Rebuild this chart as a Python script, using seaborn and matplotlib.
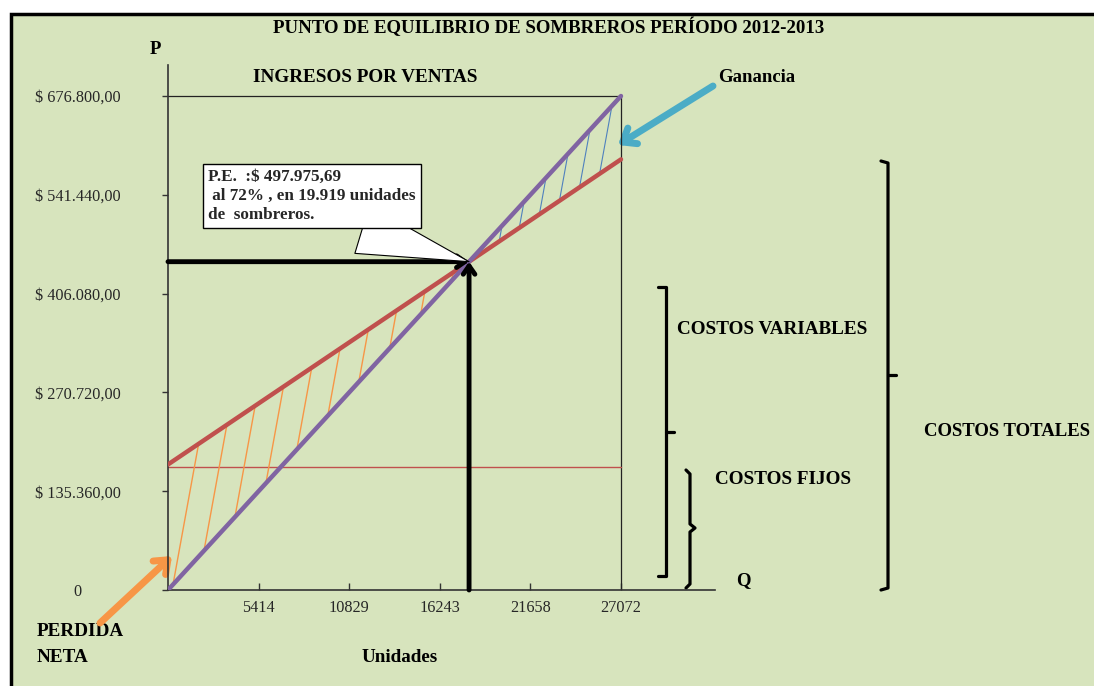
import numpy as np
import matplotlib.pyplot as plt
import seaborn as sns
from matplotlib.patches import Rectangle

# -----------------------------
# Datos
# -----------------------------
unidades = [0, 27072]
ingresos = [0, 676800]
costos_totales = [172000, 590000]
costos_fijos = [168000, 168000]

y_ticks = [0, 135360, 270720, 406080, 541440, 676800]
y_labels = ['0', '$ 135.360,00', '$ 270.720,00', '$ 406.080,00',
            '$ 541.440,00', '$ 676.800,00']
x_ticks = [5414, 10829, 16243, 21658, 27072]
x_labels = ['5414', '10829', '16243', '21658', '27072']

pe_texto = 'P.E.  :$ 497.975,69\n al 72% , en 19.919 unidades\nde  sombreros.'

VERDE = '#D7E4BD'
MORADO = '#8064A2'
ROJO = '#C0504D'
NARANJA = '#F79646'
AZUL = '#4F81BD'
CELESTE = '#4BACC6'

sns.set_theme(style='white')
plt.rcParams['font.family'] = ['Liberation Serif', 'DejaVu Serif']

W, H = 1094, 686
fig = plt.figure(figsize=(W / 100, H / 100), dpi=100, facecolor='white')

# fondo y decoracion en coordenadas de pixel
bg = fig.add_axes([0, 0, 1, 1], zorder=0)
bg.set_xlim(0, W)
bg.set_ylim(H, 0)
bg.axis('off')
bg.add_patch(Rectangle((11, 14), 1100, 700, fc=VERDE, ec='black', lw=2.5))

# ejes principales
x0_px, x1_px, y0_px, y1_px = 168, 715, 590, 65
ax = fig.add_axes([x0_px / W, (H - y0_px) / H, (x1_px - x0_px) / W, (y0_px - y1_px) / H], zorder=1)
ax.set_facecolor('none')
ax.set_xlim(0, unidades[1] * (x1_px - x0_px) / 453)
ax.set_ylim(0, ingresos[1] * (y0_px - y1_px) / 494)

sns.lineplot(x=unidades, y=costos_fijos, color=ROJO, lw=1, ax=ax, zorder=2)
sns.lineplot(x=unidades, y=costos_totales, color=ROJO, lw=3.2, ax=ax, zorder=3)
sns.lineplot(x=unidades, y=ingresos, color=MORADO, lw=3.2, ax=ax, zorder=3)
# recuadro de ingresos por ventas
ax.plot([0, unidades[1], unidades[1]], [ingresos[1], ingresos[1], 0], color='#222222', lw=0.9, zorder=1)

# punto de equilibrio (cruce de las rectas)
p_ing = (ingresos[1] - ingresos[0]) / (unidades[1] - unidades[0])
p_cos = (costos_totales[1] - costos_totales[0]) / (unidades[1] - unidades[0])
xb = (costos_totales[0] - ingresos[0]) / (p_ing - p_cos)
yb = ingresos[0] + p_ing * xb


def ing(x):
    return np.interp(x, unidades, ingresos)


def cos(x):
    return np.interp(x, unidades, costos_totales)


# rayado de perdida y ganancia
s = 126.0
for xs in np.arange(300, xb, 1850):
    y_ini = ing(xs)
    t = (cos(xs) - y_ini) / (s - p_cos)
    ax.plot([xs, xs + t], [y_ini, y_ini + s * t], color=NARANJA, lw=1, zorder=2)
for xs in np.arange(xb + 600, unidades[1], 1200):
    y_ini = cos(xs)
    t = (ing(xs) - y_ini) / (s - p_ing)
    if xs + t <= unidades[1]:
        ax.plot([xs, xs + t], [y_ini, y_ini + s * t], color=AZUL, lw=0.8, zorder=2)

flecha = dict(arrowstyle='->,head_length=0.5,head_width=0.35', color='black', lw=3.5,
              shrinkA=0, shrinkB=0)
ax.annotate('', xy=(xb, yb), xytext=(0, yb), arrowprops=flecha, zorder=4)
ax.annotate('', xy=(xb, yb), xytext=(xb, 0), arrowprops=flecha, zorder=4)

ax.annotate(pe_texto, xy=(xb, yb), xytext=(208, 169), textcoords=bg.transData,
            ha='left', va='top', fontsize=12.3, fontweight='bold', linespacing=1.25,
            bbox=dict(boxstyle='square,pad=0.3', fc='white', ec='black', lw=1),
            arrowprops=dict(arrowstyle='wedge,tail_width=1.2', fc='white', ec='black',
                            lw=0.8, relpos=(0.64, 0), mutation_scale=30, shrinkB=0),
            zorder=5)

sns.despine(ax=ax)
for sp in ['left', 'bottom']:
    ax.spines[sp].set_color('#333333')
    ax.spines[sp].set_linewidth(1.2)
ax.set_yticks(y_ticks, y_labels)
ax.set_xticks(x_ticks, x_labels)
ax.tick_params(axis='y', direction='out', length=4, width=1, color='#333333',
               pad=61, labelsize=11.7, left=True)
ax.tick_params(axis='x', direction='in', length=5, width=1, color='#333333',
               pad=7, labelsize=11.7, bottom=True)
for lab in ax.get_yticklabels():
    lab.set_horizontalalignment('center')
ax.grid(False)

# textos
negrita = dict(fontweight='bold', color='black')
bg.text(549, 27, 'PUNTO DE EQUILIBRIO DE SOMBREROS PERÍODO 2012-2013', ha='center', va='center', fontsize=13.6, **negrita)
bg.text(155, 50, 'P', ha='center', va='center', fontsize=13.5, **negrita)
bg.text(365, 77, 'INGRESOS POR VENTAS', ha='center', va='center', fontsize=13.8, **negrita)
bg.text(718, 78, 'Ganancia', ha='left', va='center', fontsize=13.5, **negrita)
bg.text(677, 330, 'COSTOS VARIABLES', ha='left', va='center', fontsize=13.8, **negrita)
bg.text(715, 480, 'COSTOS FIJOS', ha='left', va='center', fontsize=13.8, **negrita)
bg.text(1090, 431, 'COSTOS TOTALES', ha='right', va='center', fontsize=13.5, **negrita)
bg.text(743, 581, 'Q', ha='center', va='center', fontsize=13.5, **negrita)
bg.text(400, 658, 'Unidades', ha='center', va='center', fontsize=13.8, **negrita)
bg.text(37, 632, 'PERDIDA', ha='left', va='center', fontsize=13.8, **negrita)
bg.text(37, 658, 'NETA', ha='left', va='center', fontsize=13.8, **negrita)

# flechas de ganancia y perdida
bg.annotate('', xy=(618, 145), xytext=(713, 86),
            arrowprops=dict(arrowstyle='->,head_length=0.7,head_width=0.55', color=CELESTE, lw=5, shrinkA=0, shrinkB=0))
bg.annotate('', xy=(172, 556), xytext=(100, 623),
            arrowprops=dict(arrowstyle='->,head_length=0.7,head_width=0.55', color=NARANJA, lw=5, shrinkA=0, shrinkB=0))

# llaves de costos
llave = dict(color='black', lw=2.3, solid_capstyle='round')
bg.plot([658, 666, 666, 658], [287, 287, 576, 576], **llave)
bg.plot([666, 674], [432, 432], **llave)
bg.plot([686, 690, 690, 695, 690, 690, 686], [470, 474, 524, 528, 532, 584, 588], **llave)
bg.plot([881, 888, 888, 881], [161, 163, 588, 590], **llave)
bg.plot([888, 896], [375, 375], **llave)

fig.savefig('out.png', dpi=100, facecolor='white')
